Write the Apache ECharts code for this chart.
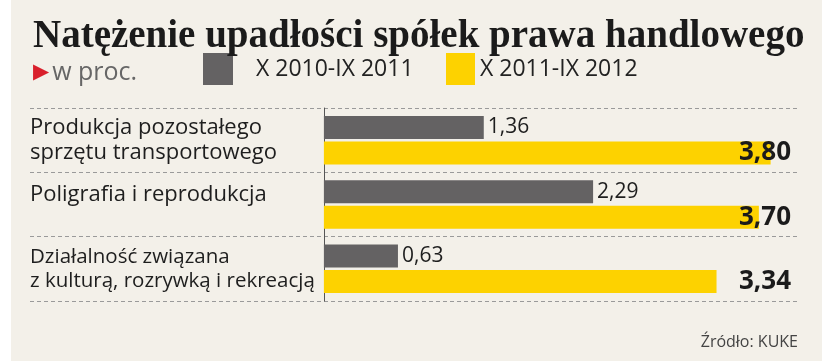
<!DOCTYPE html>
<html>
<head>
<meta charset="utf-8">
<script src="https://cdn.jsdelivr.net/npm/echarts@6/dist/echarts.min.js"></script>
<style>
html,body{margin:0;padding:0;background:#fff;}
#chart{width:830px;height:361px;background:linear-gradient(to right,#ffffff 0,#ffffff 11px,#f3f0e9 11px,#f3f0e9 822px,#ffffff 822px);}
</style>
</head>
<body>
<div id="chart"></div>
<script>
const titleText = 'Natężenie upadłości spółek prawa handlowego';
const unitText = 'w proc.';
const sourceText = 'Źródło: KUKE';
const categories = [
  'Produkcja pozostałego\nsprzętu transportowego',
  'Poligrafia i reprodukcja\n',
  'Działalność związana\nz kulturą, rozrywką i rekreacją'
];
const seriesNames = ['X 2010-IX 2011', 'X 2011-IX 2012'];
const values2011 = [1.36, 2.29, 0.63];
const values2012 = [3.80, 3.70, 3.34];
const xMin = -2.5;
const xMax = 4.05;
const xInterval = 0.05;
const labelAnchor = values2012.map(() => xMax);

const fmt = v => v.toFixed(2).replace('.', ',');
const FONT = "'Open Sans', 'Noto Sans', sans-serif";
const GRAY = '#646263';
const YELLOW = '#fdd200';

const categoryStyles = [
  {fontSize: 22, lineHeight: 25},
  {fontSize: 22, lineHeight: 19},
  {fontSize: 20.5, lineHeight: 24}
];
const categoryData = categories.map((c, i) => ({
  value: c,
  textStyle: Object.assign({align: 'left', fontFamily: FONT, color: '#1e1e1e'}, categoryStyles[i])
}));

const chart = echarts.init(document.getElementById('chart'), null, {renderer: 'canvas'});
chart.setOption({
  backgroundColor: 'transparent',
  animation: false,
  title: [
    {text: titleText, left: 28, top: 12,
     textStyle: {fontFamily: "'Liberation Serif', serif", fontWeight: 'bold', fontSize: 39, color: '#1b1b1b'}},
    {text: '{tri|▶}{u|' + unitText + '}', left: 28, top: 55,
     textStyle: {fontWeight: 'normal', rich: {
       tri: {fontFamily: "'DejaVu Sans', sans-serif", fontSize: 21, color: '#d9202c', padding: [0, 3, 0, 0], fontWeight: 'normal'},
       u: {fontFamily: FONT, fontSize: 25, color: '#666666', fontWeight: 'normal'}
     }}},
    {text: sourceText, right: 27, top: 329,
     textStyle: {fontFamily: FONT, fontSize: 16, fontWeight: 'normal', color: '#444444'}}
  ],
  legend: [
    {data: [seriesNames[0]], left: 203, top: 53, itemWidth: 30, itemHeight: 32, icon: 'rect',
     padding: 0, textStyle: {fontFamily: FONT, fontSize: 23, color: '#222', padding: [0, 0, 0, 18]}},
    {data: [seriesNames[1]], left: 446, top: 53, itemWidth: 29, itemHeight: 32, icon: 'rect',
     padding: 0, textStyle: {fontFamily: FONT, fontSize: 23, color: '#222'}}
  ],
  grid: {left: 30, right: 30, top: 108, bottom: 60, containLabel: false, outerBoundsMode: 'none'},
  xAxis: {type: 'value', min: xMin, max: xMax, interval: xInterval, show: false, splitLine: {show: false}},
  yAxis: [
    {type: 'category', inverse: true, data: categoryData,
     axisLine: {show: true, onZero: true, lineStyle: {color: '#555', width: 1}},
     axisTick: {show: false},
     splitLine: {show: true, lineStyle: {color: '#9a9a9a', type: [4, 3], width: 1}},
     axisLabel: {align: 'left', margin: 0, fontFamily: FONT, fontSize: 22, lineHeight: 25, color: '#1e1e1e'}},
    {type: 'category', inverse: true, data: categories, show: false}
  ],
  series: [
    {name: seriesNames[0], type: 'bar', yAxisIndex: 0, data: values2011, barWidth: 23, barGap: '11%',
     itemStyle: {color: GRAY},
     label: {show: true, position: 'right', distance: 4, formatter: p => fmt(p.value),
       fontFamily: FONT, fontSize: 21, color: '#1e1e1e'}},
    {name: seriesNames[1], type: 'bar', yAxisIndex: 0, data: values2012, barWidth: 23, barGap: '11%',
     itemStyle: {color: YELLOW}},
    {name: 'ghostA', type: 'bar', yAxisIndex: 1, data: values2011.map(() => '-'), barWidth: 23, barGap: '11%',
     itemStyle: {color: 'transparent'}, silent: true},
    {name: 'ghostB', type: 'bar', yAxisIndex: 1, data: labelAnchor, barWidth: 23, barGap: '11%', z: 5,
     itemStyle: {color: 'transparent'}, silent: true,
     label: {show: true, position: 'insideRight', distance: 9, formatter: p => fmt(values2012[p.dataIndex]),
       fontFamily: FONT, fontSize: 26, fontWeight: 'bold', color: '#1b1b1b'}}
  ]
});
</script>
</body>
</html>
